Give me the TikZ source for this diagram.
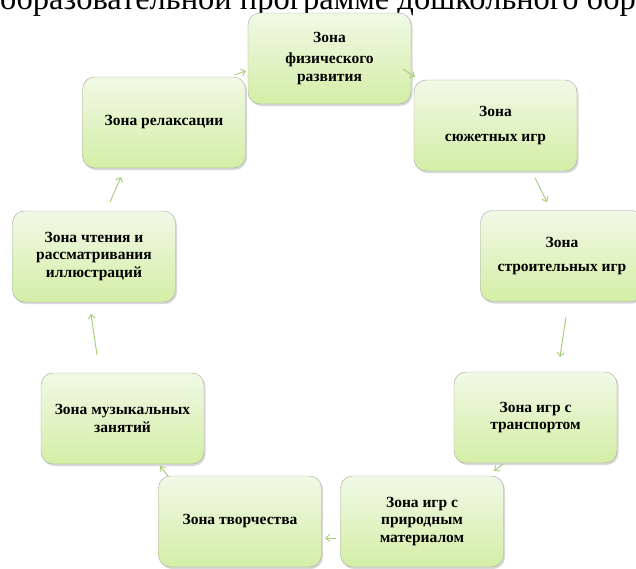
\documentclass[tikz,border=0pt]{standalone}
\usepackage{fontspec}
\setmainfont{Liberation Serif}
\usetikzlibrary{arrows.meta,shadows}
\definecolor{zone_top}{RGB}{240,249,230}
\definecolor{zone_bottom}{RGB}{212,238,166}
\definecolor{zone_edge}{RGB}{165,165,165}
\definecolor{edge_green}{RGB}{165,203,120}

\begin{document}
\begin{tikzpicture}[x=1pt,y=-1pt,>={Straight Barb[length=4pt,width=7pt]}]
    \tikzstyle{zone}=[draw=zone_edge, thin, rounded corners=12pt, minimum width=163pt, minimum height=91pt, top color=zone_top, bottom color=zone_bottom, align=center, text=black, font=\fontsize{15.5}{17.5}\selectfont\bfseries, drop shadow={opacity=0.3,shadow xshift=1.5pt,shadow yshift=-2pt}]
    \tikzstyle{flow}=[->, draw=edge_green, line width=0.9pt]

    \useasboundingbox (0,0) rectangle (636,568);
    \clip (0,0) rectangle (636,568);
    \node[anchor=base west, inner sep=0pt, font=\fontsize{32.5}{36}\selectfont] (title) at (0,9) {образовательной программе дошкольного обр};

    \node[zone] (phys)   at (329.5,58.5)  {Зона\\[4pt]физического\\развития};
    \node[zone] (sujet)  at (495.5,125.5) {Зона\\[7pt]сюжетных игр};
    \node[zone] (stroit) at (562,256)     {Зона\\[7pt]строительных игр};
    \node[zone] (trans)  at (535.5,417.5) {Зона игр с\\транспортом};
    \node[zone] (prirod) at (422,521.5)   {Зона игр с\\природным\\материалом};
    \node[zone] (tvorch) at (240,521.5)   {Зона творчества};
    \node[zone] (music)  at (122.5,418.5) {Зона музыкальных\\занятий};
    \node[zone] (chten)  at (94,256.5)    {Зона чтения и\\рассматривания\\иллюстраций};
    \node[zone] (relax)  at (164,122.5)   {Зона релаксации};

    \coordinate (relax_out)  at (234,75);   \coordinate (phys_in)   at (246,71);
    \coordinate (phys_out)   at (403,69);   \coordinate (sujet_in)  at (415,77);
    \coordinate (sujet_out)  at (535,178);  \coordinate (stroit_in) at (547,202);
    \coordinate (stroit_out) at (566,317);  \coordinate (trans_in)  at (560,357);
    \coordinate (trans_out)  at (503,464);  \coordinate (prirod_in) at (494,471);
    \coordinate (prirod_out) at (336,538);  \coordinate (tvorch_in) at (325,538);
    \coordinate (tvorch_out) at (168,476);  \coordinate (music_in)  at (160,466);
    \coordinate (music_out)  at (97,355);   \coordinate (chten_in)  at (91,314);
    \coordinate (chten_out)  at (110,202);  \coordinate (relax_in)  at (121,177);
    \path
     (relax_out)  edge[flow] (phys_in)
     (phys_out)   edge[flow] (sujet_in)
     (sujet_out)  edge[flow] (stroit_in)
     (stroit_out) edge[flow] (trans_in)
     (trans_out)  edge[flow] (prirod_in)
     (prirod_out) edge[flow] (tvorch_in)
     (tvorch_out) edge[flow] (music_in)
     (music_out)  edge[flow] (chten_in)
     (chten_out)  edge[flow] (relax_in)
     ;
\end{tikzpicture}
\end{document}
